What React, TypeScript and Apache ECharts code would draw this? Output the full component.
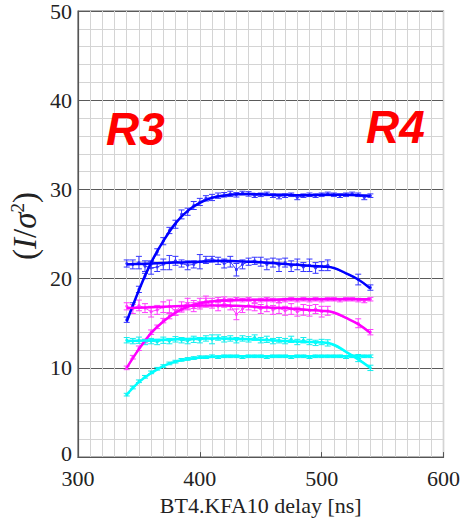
import React, { useEffect, useRef } from 'react';
import * as echarts from 'echarts';

// Measurement delays [ns]
const delays = [340, 345, 350, 355, 360, 365, 370, 375, 380, 385, 390, 395, 400, 405, 410, 415, 420, 425, 430, 435, 440, 445, 450, 455, 460, 465, 470, 475, 480, 485, 490, 495, 500, 505, 510, 515, 520, 525, 530, 535, 540];
// Fit curve sample delays [ns]
const fitDelays = [340, 350, 360, 370, 380, 390, 400, 410, 420, 430, 440, 450, 460, 470, 480, 490, 500, 510, 520, 530, 540];

// Blue
const blueR3 = [15.4, 17.0, 18.8, 20.3, 21.6, 23.0, 24.2, 25.4, 26.1, 27.2, 27.5, 28.2, 28.6, 29.0, 29.1, 29.3, 29.4, 29.5, 29.4, 29.6, 29.5, 29.3, 29.4, 29.5, 29.3, 29.2, 29.3, 29.4, 29.1, 29.3, 29.4, 29.3, 29.4, 29.5, 29.4, 29.3, 29.4, 29.5, 29.4, 29.1, 29.3];
const blueR3Err = [0.3, 0.3, 0.35, 0.3, 0.4, 0.35, 0.4, 0.35, 0.45, 0.5, 0.4, 0.45, 0.4, 0.3, 0.35, 0.3, 0.25, 0.3, 0.25, 0.2, 0.25, 0.2, 0.2, 0.2, 0.2, 0.25, 0.2, 0.2, 0.25, 0.2, 0.2, 0.2, 0.2, 0.2, 0.2, 0.2, 0.2, 0.2, 0.2, 0.25, 0.2];
const blueR4 = [21.7, 21.6, 21.8, 21.4, 21.2, 21.3, 21.6, 21.8, 22.0, 21.7, 21.5, 21.6, 21.9, 22.1, 22.2, 22.0, 21.7, 21.9, 21.0, 21.6, 21.9, 22.0, 21.9, 21.6, 21.8, 21.5, 21.8, 21.4, 21.6, 21.3, 21.5, 21.2, 21.4, 21.5, null, null, null, null, 19.9, null, 19.0];
const blueR4Err = [0.4, 0.5, 0.7, 0.6, 0.7, 0.5, 0.6, 0.8, 0.5, 0.4, 0.5, 0.4, 0.8, 0.4, 0.3, 0.4, 0.5, 0.6, 0.7, 0.5, 0.4, 0.4, 0.5, 0.6, 0.5, 0.7, 0.5, 0.6, 0.6, 0.5, 0.7, 0.6, 0.5, 0.6, null, null, null, null, 0.6, null, 0.3];
const blueR3Fit = [15.2, 18.7, 21.8, 24.2, 26.2, 27.6, 28.5, 29.05, 29.3, 29.45, 29.5, 29.45, 29.4, 29.4, 29.35, 29.35, 29.4, 29.4, 29.4, 29.35, 29.3];
const blueR4Fit = [21.6, 21.65, 21.7, 21.75, 21.8, 21.85, 21.9, 21.95, 22.0, 21.95, 21.9, 21.85, 21.75, 21.65, 21.55, 21.45, 21.35, 21.2, 20.6, 19.9, 18.9];

// Magenta
const magentaR3 = [10.0, 11.2, 12.2, 13.0, 14.0, 14.6, 15.3, 15.8, 16.2, 16.6, 16.9, 17.1, 17.3, 17.5, 17.4, 17.6, 17.7, 17.6, 17.7, 17.6, 17.7, 17.5, 17.6, 17.7, 17.6, 17.5, 17.6, 17.7, 17.6, 17.7, 17.6, 17.7, 17.6, 17.7, 17.7, 17.6, 17.7, 17.7, 17.6, 17.5, 17.7];
const magentaR3Err = [0.2, 0.2, 0.25, 0.2, 0.25, 0.2, 0.25, 0.3, 0.3, 0.35, 0.4, 0.45, 0.5, 0.55, 0.4, 0.3, 0.25, 0.2, 0.2, 0.2, 0.2, 0.2, 0.2, 0.2, 0.2, 0.2, 0.2, 0.2, 0.2, 0.2, 0.2, 0.2, 0.2, 0.2, 0.2, 0.2, 0.2, 0.2, 0.2, 0.2, 0.2];
const magentaR4 = [16.9, 16.6, 17.0, 16.7, 16.3, 16.5, 16.8, 16.9, 16.4, 16.9, 17.2, 16.8, 17.0, 17.3, 17.1, 16.9, 17.2, 17.0, 16.0, 16.6, 17.0, 16.8, 16.6, 16.9, 16.5, 16.7, 16.4, 16.6, 16.3, 16.5, 16.4, 16.6, 16.3, 16.4, null, null, null, null, 15.0, null, 14.0];
const magentaR4Err = [0.4, 0.5, 0.6, 0.5, 0.6, 0.5, 0.6, 0.7, 0.5, 0.5, 0.6, 0.5, 0.4, 0.5, 0.4, 0.5, 0.4, 0.5, 0.6, 0.4, 0.5, 0.4, 0.5, 0.6, 0.5, 0.6, 0.5, 0.6, 0.5, 0.6, 0.6, 0.5, 0.6, 0.5, null, null, null, null, 0.5, null, 0.3];
const magentaR3Fit = [10.0, 12.1, 13.9, 15.2, 16.2, 16.85, 17.25, 17.45, 17.55, 17.6, 17.65, 17.65, 17.65, 17.7, 17.7, 17.7, 17.7, 17.7, 17.7, 17.7, 17.7];
const magentaR4Fit = [16.7, 16.75, 16.8, 16.85, 16.9, 16.95, 17.0, 17.0, 17.0, 16.95, 16.9, 16.8, 16.75, 16.7, 16.6, 16.5, 16.4, 16.2, 15.6, 14.9, 13.9];

// Cyan
const cyanR3 = [7.0, 7.8, 8.5, 9.0, 9.5, 9.9, 10.2, 10.5, 10.7, 10.9, 11.0, 11.1, 11.2, 11.2, 11.3, 11.2, 11.3, 11.3, 11.3, 11.2, 11.3, 11.3, 11.3, 11.2, 11.3, 11.3, 11.3, 11.2, 11.3, 11.3, 11.2, 11.3, 11.3, 11.3, 11.3, 11.3, 11.2, 11.3, 11.2, 11.3, 11.3];
const cyanR3Err = [0.15, 0.15, 0.15, 0.15, 0.15, 0.15, 0.15, 0.15, 0.15, 0.15, 0.15, 0.15, 0.15, 0.15, 0.15, 0.15, 0.15, 0.15, 0.15, 0.15, 0.15, 0.15, 0.15, 0.15, 0.15, 0.15, 0.15, 0.15, 0.15, 0.15, 0.15, 0.15, 0.15, 0.15, 0.15, 0.15, 0.15, 0.15, 0.15, 0.15, 0.15];
const cyanR4 = [13.1, 13.0, 13.1, 12.9, 13.0, 12.9, 13.1, 13.0, 13.2, 13.1, 13.0, 13.2, 13.1, 13.3, 13.2, 13.4, 13.2, 13.3, 13.1, 13.3, 13.2, 13.4, 13.1, 13.2, 13.0, 13.1, 13.0, 13.2, 12.9, 13.1, 12.9, 12.8, 12.9, 12.8, null, null, null, null, 11.1, null, 10.0];
const cyanR4Err = [0.3, 0.3, 0.35, 0.3, 0.3, 0.3, 0.35, 0.3, 0.3, 0.3, 0.3, 0.35, 0.3, 0.3, 0.5, 0.3, 0.3, 0.3, 0.3, 0.3, 0.3, 0.3, 0.3, 0.35, 0.3, 0.3, 0.3, 0.35, 0.3, 0.3, 0.3, 0.3, 0.3, 0.35, null, null, null, null, 0.4, null, 0.3];
const cyanR3Fit = [7.0, 8.4, 9.4, 10.2, 10.7, 11.0, 11.15, 11.25, 11.3, 11.3, 11.3, 11.3, 11.3, 11.3, 11.3, 11.3, 11.3, 11.3, 11.3, 11.3, 11.3];
const cyanR4Fit = [13.0, 13.05, 13.1, 13.15, 13.2, 13.25, 13.3, 13.3, 13.3, 13.25, 13.2, 13.15, 13.1, 13.0, 12.95, 12.9, 12.85, 12.6, 11.8, 10.95, 10.0];

const xTicks = { min: 300, max: 600, interval: 100 };
const yTicks = { min: 0, max: 50, interval: 10 };

const SERIF = '"Liberation Serif", "Times New Roman", serif';

function pairs(xs: number[], ys: (number | null)[]) {
  return xs.map((x, i) => [x, ys[i]]);
}

function errTriples(xs: number[], ys: (number | null)[], es: (number | null)[]) {
  const out: number[][] = [];
  xs.forEach((x, i) => {
    const y = ys[i];
    const e = es[i];
    if (y != null && e != null) out.push([x, y, e]);
  });
  return out;
}

function dataSeries(ys: (number | null)[], color: string) {
  return {
    type: 'line',
    data: pairs(delays, ys),
    connectNulls: true,
    symbol: 'circle',
    symbolSize: 3,
    itemStyle: { color },
    lineStyle: { color, width: 1 },
    z: 3,
  };
}

function errSeries(ys: (number | null)[], es: (number | null)[], color: string) {
  return {
    type: 'custom',
    data: errTriples(delays, ys, es),
    z: 3,
    renderItem: (params: any, api: any) => {
      const x = api.value(0);
      const y = api.value(1);
      const e = api.value(2);
      const lo = api.coord([x, y - e]);
      const hi = api.coord([x, y + e]);
      const w = 3;
      const style = { stroke: color, lineWidth: 1 };
      return {
        type: 'group',
        children: [
          { type: 'line', shape: { x1: lo[0], y1: lo[1], x2: hi[0], y2: hi[1] }, style },
          { type: 'line', shape: { x1: lo[0] - w, y1: lo[1], x2: lo[0] + w, y2: lo[1] }, style },
          { type: 'line', shape: { x1: hi[0] - w, y1: hi[1], x2: hi[0] + w, y2: hi[1] }, style },
        ],
      };
    },
  };
}

function fitSeries(ys: number[], color: string) {
  return {
    type: 'line',
    data: pairs(fitDelays, ys),
    smooth: 0.4,
    symbol: 'none',
    lineStyle: { color, width: 2.5 },
    z: 4,
  };
}

export default function App() {
  const ref = useRef<HTMLDivElement>(null);

  useEffect(() => {
    if (!ref.current) return;
    const chart = echarts.init(ref.current, undefined, { renderer: 'svg' });
    const blue = '#0000ff';
    const blueD = '#3636ff';
    const mag = '#ff00ff';
    const magD = '#ff3cff';
    const cyan = '#00ffff';
    const cyanD = '#10eeee';
    chart.setOption({
      animation: false,
      backgroundColor: '#ffffff',
      grid: {
        left: 78,
        top: 10,
        width: 368,
        height: 448,
        show: true,
        borderColor: '#666',
        borderWidth: 1.2,
        backgroundColor: 'transparent',
      },
      xAxis: {
        type: 'value',
        min: xTicks.min,
        max: xTicks.max,
        interval: xTicks.interval,
        name: 'BT4.KFA10 delay [ns]',
        nameLocation: 'middle',
        nameGap: 36,
        nameTextStyle: { fontFamily: SERIF, fontSize: 22, color: '#222' },
        axisLine: { show: true, lineStyle: { color: '#555', width: 1.2 } },
        axisTick: { show: true, inside: true, length: 5, lineStyle: { color: '#555' } },
        axisLabel: { fontFamily: SERIF, fontSize: 22, color: '#222', margin: 10 },
        splitLine: { show: true, lineStyle: { color: '#d4d4d4', width: 1 } },
        minorTick: { show: false, splitNumber: 10 },
        minorSplitLine: { show: true, lineStyle: { color: '#d4d4d4', width: 1 } },
      },
      yAxis: {
        type: 'value',
        min: yTicks.min,
        max: yTicks.max,
        interval: yTicks.interval,
        axisLine: { show: true, lineStyle: { color: '#555', width: 1.2 } },
        axisTick: { show: false },
        axisLabel: {
          fontFamily: SERIF,
          fontSize: 22,
          color: '#222',
          margin: 6,
          showMinLabel: false,
        },
        splitLine: { show: true, lineStyle: { color: '#5a5a5a', width: 1 } },
        minorTick: { show: false, splitNumber: 5 },
        minorSplitLine: { show: true, lineStyle: { color: '#d4d4d4', width: 1 } },
      },
      graphic: [
        {
          type: 'text',
          x: 72,
          y: 453,
          style: {
            text: String(yTicks.min),
            font: '22px "Liberation Serif", "Times New Roman", serif',
            fill: '#222',
            align: 'right',
            verticalAlign: 'middle',
          },
        },
        {
          type: 'text',
          x: 25,
          y: 226,
          rotation: Math.PI / 2,
          style: {
            text: '{p|(}{i|I}{p|/}{i|σ}{s|2}{p|)}',
            align: 'center',
            verticalAlign: 'middle',
            fill: '#222',
            rich: {
              p: { fontFamily: SERIF, fontSize: 33, fill: '#222' },
              i: { fontFamily: SERIF, fontSize: 33, fontStyle: 'italic', fill: '#222' },
              s: { fontFamily: SERIF, fontSize: 19, fill: '#222', verticalAlign: 'top', padding: [0, 0, 16, 0] },
            },
          },
        },
        {
          type: 'text',
          x: 106,
          y: 152,
          style: {
            text: 'R3',
            font: 'italic bold 46px "Liberation Sans", Arial, sans-serif',
            fill: '#ff0000',
            verticalAlign: 'bottom',
          },
          z: 10,
        },
        {
          type: 'text',
          x: 366,
          y: 150,
          style: {
            text: 'R4',
            font: 'italic bold 46px "Liberation Sans", Arial, sans-serif',
            fill: '#ff0000',
            verticalAlign: 'bottom',
          },
          z: 10,
        },
      ],
      series: [
        errSeries(blueR3, blueR3Err, blueD),
        dataSeries(blueR3, blueD),
        errSeries(blueR4, blueR4Err, blueD),
        dataSeries(blueR4, blueD),
        errSeries(magentaR3, magentaR3Err, magD),
        dataSeries(magentaR3, magD),
        errSeries(magentaR4, magentaR4Err, magD),
        dataSeries(magentaR4, magD),
        errSeries(cyanR3, cyanR3Err, cyanD),
        dataSeries(cyanR3, cyanD),
        errSeries(cyanR4, cyanR4Err, cyanD),
        dataSeries(cyanR4, cyanD),
        fitSeries(blueR3Fit, blue),
        fitSeries(blueR4Fit, blue),
        fitSeries(magentaR3Fit, mag),
        fitSeries(magentaR4Fit, mag),
        fitSeries(cyanR3Fit, cyan),
        fitSeries(cyanR4Fit, cyan),
      ],
    });
    return () => chart.dispose();
  }, []);

  return (
    <div
      ref={ref}
      style={{ position: 'fixed', left: 0, top: 0, width: 463, height: 521, background: '#fff' }}
    />
  );
}
